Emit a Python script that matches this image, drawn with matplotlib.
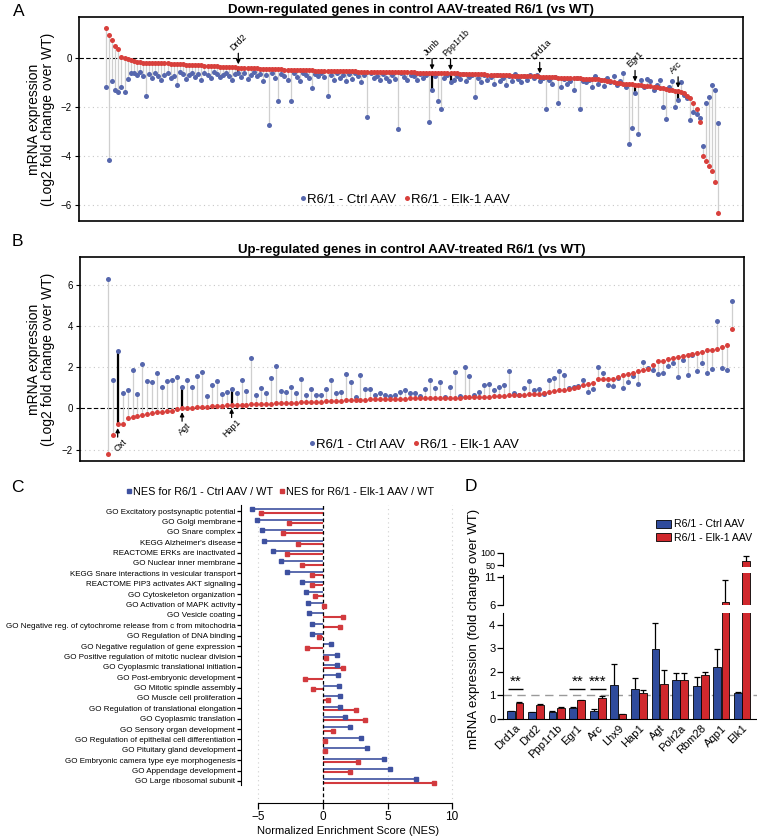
import numpy as np
import matplotlib
matplotlib.use('Agg')
import matplotlib.pyplot as plt
from matplotlib.lines import Line2D
from matplotlib.patches import Patch

plt.rcParams['font.family'] = ['Liberation Sans', 'DejaVu Sans']
NARROW = ['Liberation Sans Narrow', 'Liberation Sans', 'DejaVu Sans']

# ---------------- data ----------------
# Panel A: down-regulated genes, log2 fold change (sorted by Elk-1 AAV)
down_elk = [
    1.24, 0.95, 0.75, 0.5, 0.38, 0.05, -0.02, -0.06, -0.09, -0.12,
    -0.15, -0.18, -0.2, -0.2, -0.21, -0.21, -0.21, -0.22, -0.22, -0.22,
    -0.22, -0.23, -0.24, -0.25, -0.25, -0.26, -0.27, -0.27, -0.28, -0.29,
    -0.3, -0.3, -0.31, -0.32, -0.32, -0.33, -0.34, -0.35, -0.35, -0.36,
    -0.37, -0.38, -0.38, -0.39, -0.4, -0.4, -0.41, -0.42, -0.42, -0.43,
    -0.44, -0.44, -0.45, -0.45, -0.46, -0.46, -0.47, -0.47, -0.48, -0.48,
    -0.49, -0.49, -0.5, -0.5, -0.5, -0.51, -0.51, -0.51, -0.52, -0.52,
    -0.52, -0.53, -0.53, -0.53, -0.53, -0.54, -0.54, -0.54, -0.55, -0.55,
    -0.55, -0.55, -0.56, -0.56, -0.56, -0.56, -0.57, -0.57, -0.57, -0.57,
    -0.57, -0.58, -0.58, -0.58, -0.58, -0.58, -0.59, -0.59, -0.59, -0.59,
    -0.59, -0.6, -0.6, -0.6, -0.6, -0.6, -0.61, -0.61, -0.61, -0.62,
    -0.62, -0.62, -0.63, -0.63, -0.63, -0.64, -0.64, -0.64, -0.65, -0.65,
    -0.66, -0.66, -0.67, -0.67, -0.68, -0.68, -0.69, -0.69, -0.7, -0.7,
    -0.71, -0.71, -0.72, -0.72, -0.73, -0.73, -0.74, -0.74, -0.75, -0.75,
    -0.75, -0.76, -0.76, -0.77, -0.78, -0.78, -0.79, -0.8, -0.8, -0.81,
    -0.81, -0.82, -0.82, -0.83, -0.83, -0.84, -0.84, -0.85, -0.86, -0.86,
    -0.87, -0.88, -0.9, -0.93, -0.96, -0.99, -1.01, -1.03, -1.05, -1.06,
    -1.07, -1.08, -1.09, -1.1, -1.12, -1.14, -1.15, -1.16, -1.18, -1.2,
    -1.22, -1.24, -1.27, -1.29, -1.31, -1.33, -1.35, -1.38, -1.45, -1.56,
    -1.65, -1.85, -2.1, -2.6, -4.0, -4.2, -4.4, -4.6, -5.05, -6.33]
down_ctrl = [
    -1.2, -4.15, -0.95, -1.3, -1.37, -1.2, -1.4, -0.85, -0.6, -0.62,
    -0.7, -0.58, -0.75, -1.54, -0.65, -0.82, -0.6, -0.72, -0.9, -0.68,
    -0.62, -0.8, -0.74, -1.1, -0.58, -0.66, -0.85, -0.7, -0.6, -0.77,
    -0.65, -0.9, -0.6, -0.7, -0.83, -0.58, -0.64, -0.76, -0.68, -0.6,
    -0.72, -0.9, -0.65, -0.62, -0.78, -0.6, -0.85, -0.68, -0.58, -0.74,
    -0.66, -0.92, -0.7, -2.75, -0.6, -0.8, -1.75, -0.64, -0.72, -0.88,
    -1.75, -0.62, -0.76, -0.95, -0.6, -0.7, -0.82, -1.23, -0.65, -0.74,
    -0.6, -0.78, -1.54, -0.68, -0.9, -0.62, -0.8, -0.7, -0.95, -0.66,
    -0.85, -0.62, -0.75, -0.98, -0.7, -2.4, -0.6, -0.82, -0.72, -0.9,
    -0.66, -0.8, -0.95, -0.7, -0.85, -2.9, -0.62, -0.78, -0.9, -0.68,
    -0.75, -0.88, -0.64, -0.8, -0.7, -2.6, -1.3, -0.75, -1.75, -2.1,
    -0.8, -0.68, -1.0, -0.9, -0.72, -0.85, -0.66, -0.95, -0.78, -0.7,
    -1.6, -0.82, -1.0, -0.7, -0.9, -0.76, -1.05, -0.68, -0.92, -0.8,
    -1.1, -0.72, -0.95, -0.66, -0.85, -1.0, -0.72, -0.9, -0.68, -0.8,
    -0.7, -0.95, -0.8, -2.1, -0.9, -1.05, -0.78, -1.85, -1.2, -0.85,
    -1.05, -0.92, -1.3, -0.8, -2.1, -0.95, -1.0, -0.88, -1.2, -0.75,
    -1.05, -0.9, -1.15, -0.8, -1.0, -0.72, -1.1, -0.95, -0.6, -1.2,
    -3.5, -2.84, -1.45, -3.1, -0.9, -1.2, -0.85, -0.95, -1.3, -1.1,
    -0.9, -2.0, -2.5, -1.2, -0.95, -2.0, -1.7, -1.0, -1.5, -1.65,
    -2.55, -2.2, -2.3, -2.45, -3.6, -1.85, -1.6, -1.1, -1.3, -2.65]
down_marked = {'Drd2': 43, 'Junb': 106, 'Ppp1r1b': 112, 'Drd1a': 141,
               'Egr1': 172, 'Arc': 186}

# Panel B: up-regulated genes
up_elk = [
    -2.2, -1.29, -0.77, -0.77, -0.45, -0.4, -0.35, -0.3, -0.26, -0.24,
    -0.19, -0.15, -0.11, -0.1, -0.05, 0.0, 0.02, 0.03, 0.05, 0.06,
    0.08, 0.1, 0.11, 0.13, 0.15, 0.18, 0.18, 0.19, 0.19, 0.2,
    0.21, 0.22, 0.23, 0.24, 0.25, 0.26, 0.27, 0.28, 0.28, 0.29,
    0.3, 0.31, 0.32, 0.33, 0.34, 0.35, 0.36, 0.38, 0.39, 0.4,
    0.41, 0.42, 0.43, 0.44, 0.44, 0.45, 0.46, 0.47, 0.47, 0.48,
    0.48, 0.49, 0.49, 0.5, 0.5, 0.5, 0.51, 0.51, 0.52, 0.52,
    0.53, 0.53, 0.54, 0.55, 0.55, 0.56, 0.57, 0.58, 0.59, 0.6,
    0.62, 0.63, 0.65, 0.66, 0.67, 0.69, 0.7, 0.72, 0.75, 0.8,
    0.85, 0.89, 0.91, 0.93, 1.0, 1.05, 1.12, 1.17, 1.22, 1.42,
    1.43, 1.44, 1.45, 1.52, 1.6, 1.65, 1.72, 1.8, 1.88, 1.92,
    2.1, 2.28, 2.3, 2.4, 2.45, 2.5, 2.55, 2.58, 2.64, 2.7,
    2.76, 2.82, 2.86, 2.9, 2.98, 3.06, 3.87]
up_ctrl = [
    6.3, 1.37, 2.79, 0.73, 0.89, 1.89, 0.69, 2.18, 1.32, 1.26,
    1.73, 1.06, 1.31, 1.4, 1.55, 1.06, 1.39, 1.06, 1.56, 1.77,
    0.61, 1.15, 1.35, 0.69, 0.79, 0.95, 0.77, 1.37, 0.84, 2.45,
    0.66, 0.98, 0.77, 1.48, 2.06, 0.84, 0.82, 1.05, 0.73, 1.45,
    0.65, 0.94, 0.63, 0.63, 0.92, 1.37, 0.74, 0.82, 1.66, 1.26,
    0.58, 1.6, 0.95, 0.94, 0.65, 0.73, 0.65, 0.6, 0.65, 0.81,
    0.89, 0.73, 0.73, 0.6, 0.94, 1.4, 0.97, 1.26, 0.56, 1.02,
    1.77, 0.6, 2.02, 1.58, 0.65, 0.81, 1.13, 1.18, 0.89, 1.02,
    1.13, 1.81, 0.77, 0.65, 0.97, 1.34, 0.89, 0.94, 0.69, 1.37,
    1.48, 1.82, 1.61, 0.97, 1.05, 1.08, 1.4, 0.81, 0.95, 2.02,
    1.73, 1.16, 1.08, 1.5, 0.97, 1.29, 1.56, 1.21, 2.27, 1.97,
    1.85, 1.66, 1.73, 2.06, 2.23, 1.53, 2.34, 1.61, 2.58, 1.82,
    2.21, 1.73, 1.9, 4.23, 1.98, 1.89, 5.2]
up_marked = {'Oxt': 2, 'Agt': 15, 'Hap1': 25}

# Panel C: GSEA normalized enrichment scores
gene_sets = [
    'GO Excitatory postsynaptic potential', 'GO Golgi membrane',
    'GO Snare complex', "KEGG Alzheimer's disease",
    'REACTOME ERKs are inactivated', 'GO Nuclear inner membrane',
    'KEGG Snare interactions in vesicular transport',
    'REACTOME PIP3 activates AKT signaling', 'GO Cytoskeleton organization',
    'GO Activation of MAPK activity', 'GO Vesicle coating',
    'GO Negative reg. of cytochrome release from c from mitochodria',
    'GO Regulation of DNA binding', 'GO Negative regulation of gene expression',
    'GO Positive regulation of mitotic nuclear division',
    'GO Cyoplasmic translational initiation', 'GO Post-embryonic development',
    'GO Mitotic spindle assembly', 'GO Muscle cell proliferation',
    'GO Regulation of translational elongation', 'GO Cyoplasmic translation',
    'GO Sensory organ development',
    'GO Regulation of epithelial cell differentiation',
    'GO Pituitary gland development',
    'GO Embryonic camera type eye morphogenesis',
    'GO Appendage development', 'GO Large ribosomal subunit']
nes_ctrl = [-5.47, -5.08, -4.69, -4.54, -3.84, -3.27, -2.81, -1.6, -1.29,
            -1.13, -1.11, -0.83, -0.83, 0.64, 1.08, 1.11, 1.13, 1.24, 1.31,
            1.34, 1.73, 2.11, 2.91, 3.38, 4.69, 5.21, 7.22]
nes_elk = [-4.82, -2.6, -3.07, -1.91, -2.76, -1.62, -0.84, -0.85, -0.64,
           0.1, 1.57, 1.31, -0.34, -1.24, 0.26, 1.55, -1.37, -0.8, 0.39,
           2.55, 3.25, 0.75, 0.18, 0.13, 2.71, 2.09, 8.61]

# Panel D: qPCR fold change over WT
qpcr_genes = ['Drd1a', 'Drd2', 'Ppp1r1b', 'Egr1', 'Arc', 'Lhx9', 'Hap1',
              'Agt', 'Polr2a', 'Rbm28', 'Aqp1', 'Elk1']
qpcr_ctrl = [0.34, 0.29, 0.30, 0.46, 0.36, 1.46, 1.26, 2.97, 1.67, 1.40,
             2.23, 1.11]
qpcr_ctrl_err = [0.02, 0.02, 0.02, 0.04, 0.05, 0.87, 0.5, 1.12, 0.29, 0.37,
                 0.73, 0.03]
qpcr_elk = [0.69, 0.61, 0.47, 0.79, 0.89, 0.21, 1.11, 1.51, 1.67, 1.86,
            6.5, 68]
qpcr_elk_err = [0.02, 0.02, 0.02, 0.02, 0.08, 0.02, 0.13, 0.58, 0.29, 0.15,
                3.9, 21]
signif = {'Drd1a': '**', 'Egr1': '**', 'Arc': '***'}

# ---------------- figure ----------------
DOT_BLUE = '#5667ad'
DOT_RED = '#d8403c'
BAR_BLUE = '#2f4b9c'
BAR_RED = '#d0282d'
W, H = 757, 838
fig = plt.figure(figsize=(W / 100, H / 100), dpi=100)


def box(left, top, right, bottom):
    # axes rectangle given in pixel coordinates of the reference
    return [left / W, 1 - bottom / H, (right - left) / W, (bottom - top) / H]


def lollipop(ax, ctrl, elk, marked):
    x = np.arange(len(ctrl))
    ax.vlines(x, ctrl, elk, color='#cfcfcf', lw=0.9, zorder=1)
    for name, i in marked.items():
        ax.vlines(i, ctrl[i], elk[i], color='k', lw=1.6, zorder=2)
    ax.scatter(x, ctrl, s=13, color=DOT_BLUE, lw=0, zorder=3)
    ax.scatter(x, elk, s=13, color=DOT_RED, lw=0, zorder=4)
    ax.axhline(0, color='k', ls=(0, (4, 2)), lw=0.8, zorder=0)
    ax.set_xticks([])
    ax.tick_params(axis='y', labelsize=7, length=3, width=0.8, pad=2)
    for s in ax.spines.values():
        s.set_linewidth(1.2)
    handles = [Line2D([], [], marker='o', ls='', ms=3.6, color=DOT_BLUE,
                      mec='none', label='R6/1 - Ctrl AAV'),
               Line2D([], [], marker='o', ls='', ms=3.6, color=DOT_RED,
                      mec='none', label='R6/1 - Elk-1 AAV')]
    return handles


# Panel A
axA = fig.add_axes(box(79, 17, 743, 221))
hA = lollipop(axA, down_ctrl, down_elk, down_marked)
for y in (-2, -4, -6):
    axA.axhline(y, color='#c8c8c8', ls=(0, (1, 3)), lw=0.8, zorder=0)
axA.set_xlim(-8.8, 207.1)
axA.set_ylim(-6.65, 1.67)
axA.set_yticks([0, -2, -4, -6])
for name, i in down_marked.items():
    r = down_elk[i]
    axA.annotate('', xy=(i, r + 0.13), xytext=(i, r + 0.58),
                 arrowprops=dict(arrowstyle='-|>', color='k', lw=0.9,
                                 mutation_scale=6, shrinkA=0, shrinkB=0))
    axA.text(i - 1.2, r + 0.62, name, rotation=45, ha='left', va='bottom',
             rotation_mode='anchor', fontsize=6.5, family=NARROW)
axA.legend(handles=hA, loc='center', bbox_to_anchor=(0.488, 0.103), ncol=2,
           frameon=False, fontsize=9.5, handletextpad=-0.2,
           columnspacing=0.3, handlelength=1.0)
axA.set_title('Down-regulated genes in control AAV-treated R6/1 (vs WT)',
              fontsize=9.5, fontweight='bold', family=NARROW, pad=3)

# Panel B
axB = fig.add_axes(box(80, 257, 744, 461))
hB = lollipop(axB, up_ctrl, up_elk, up_marked)
for y in (6, 4, 2, -2):
    axB.axhline(y, color='#c8c8c8', ls=(0, (1, 3)), lw=0.8, zorder=0)
axB.set_xlim(-5.6, 128.4)
axB.set_ylim(-2.55, 7.35)
axB.set_yticks([-2, 0, 2, 4, 6])
for name, i in up_marked.items():
    r = up_elk[i]
    axB.annotate('', xy=(i, r - 0.18), xytext=(i, r - 0.62),
                 arrowprops=dict(arrowstyle='-|>', color='k', lw=0.9,
                                 mutation_scale=6, shrinkA=0, shrinkB=0))
    axB.text(i + 0.9, r - 0.62, name, rotation=45, ha='right', va='top',
             rotation_mode='anchor', fontsize=6.5, family=NARROW)
axB.legend(handles=hB, loc='center', bbox_to_anchor=(0.5, 0.08), ncol=2,
           frameon=False, fontsize=9.5, handletextpad=-0.2,
           columnspacing=0.3, handlelength=1.0)
axB.set_title('Up-regulated genes in control AAV-treated R6/1 (vs WT)',
              fontsize=9.5, fontweight='bold', family=NARROW, pad=3)

ylab = 'mRNA expression\n(Log2 fold change over WT)'
fig.text(41 / W, 1 - 119 / H, ylab, rotation=90, ha='center', va='center',
         fontsize=10, linespacing=1.05)
fig.text(41 / W, 1 - 359 / H, ylab, rotation=90, ha='center', va='center',
         fontsize=10, linespacing=1.05)

# Panel C
axC = fig.add_axes(box(241, 505, 456, 803))
rows = np.arange(len(gene_sets))
for xv in (-5, 5, 10):
    axC.axvline(xv, color='#d0d0d0', ls=(0, (1, 3)), lw=0.8, zorder=0)
axC.axvline(0, color='k', ls=(0, (3, 2)), lw=0.9, zorder=3)
axC.hlines(rows - 0.16, 0, nes_ctrl, color='#3e51a0', lw=1.2, zorder=2)
axC.hlines(rows + 0.16, 0, nes_elk, color='#d23a3e', lw=1.5, zorder=2)
axC.plot(nes_ctrl, rows - 0.16, 's', ms=2.2, color='#3e51a0', zorder=4)
axC.plot(nes_elk, rows + 0.16, 's', ms=2.2, color='#d23a3e', zorder=4)
axC.set_xlim(-6.34, 10.3)
axC.set_ylim(28.12, -0.58)
axC.set_yticks(rows)
axC.set_yticklabels(gene_sets, family=NARROW, fontsize=5.8)
axC.set_xticks([-5, 0, 5, 10])
axC.tick_params(axis='y', length=3, width=0.9, pad=1)
axC.tick_params(axis='x', length=4, width=0.9, labelsize=8.5, pad=2)
for t in axC.get_xticklabels():
    t.set_family(NARROW)
axC.spines['top'].set_visible(False)
axC.spines['right'].set_visible(False)
axC.spines['left'].set_bounds(-0.6, 26.4)
axC.spines['bottom'].set_bounds(-5, 10)
axC.set_xlabel('Normalized Enrichment Score (NES)', family=NARROW,
               fontsize=8, labelpad=2)
hC = [Line2D([], [], marker='s', ls='', ms=2.5, color='#3e51a0',
             label='NES for R6/1 - Ctrl AAV / WT'),
      Line2D([], [], marker='s', ls='', ms=2.5, color='#d23a3e',
             label='NES for R6/1 - Elk-1 AAV / WT')]
fig.legend(handles=hC, loc='center', bbox_to_anchor=(280 / W, 1 - 492 / H),
           ncol=2, frameon=False, prop={'family': NARROW, 'size': 7.8},
           handletextpad=0.05, columnspacing=0.5, handlelength=0.6)

# Panel D: broken y axis made from three stacked axes
xd = np.arange(len(qpcr_genes))
d_lo = fig.add_axes(box(503, 613, 757, 719))
d_mid = fig.add_axes(box(503, 573, 757, 605))
d_hi = fig.add_axes(box(503, 551, 757, 567))
segments = [(d_lo, (0, 4.51), [0, 1, 2, 3, 4], 8),
            (d_mid, (6, 11.7), [6, 11], 8),
            (d_hi, (41.7, 108.3), [50, 100], 6.5)]
for ax, lim, ticks, fs in segments:
    ax.bar(xd - 0.2, qpcr_ctrl, 0.38, color=BAR_BLUE, edgecolor='k',
           lw=0.6, zorder=2)
    ax.bar(xd + 0.2, qpcr_elk, 0.38, color=BAR_RED, edgecolor='k',
           lw=0.6, zorder=2)
    for off, vals, errs in ((-0.2, qpcr_ctrl, qpcr_ctrl_err),
                            (0.2, qpcr_elk, qpcr_elk_err)):
        tops = np.array(vals) + np.array(errs)
        ax.vlines(xd + off, vals, tops, color='k', lw=0.9, zorder=1)
        ax.plot(xd + off, tops, ls='', marker='_', ms=4, mew=0.9,
                color='k', zorder=1)
    ax.set_xlim(-0.6, 11.73)
    ax.set_ylim(*lim)
    ax.set_yticks(ticks)
    ax.tick_params(axis='y', length=4, width=0.9, labelsize=fs, pad=1.5)
    for t in ax.get_yticklabels():
        t.set_family(NARROW)
    ax.spines['top'].set_visible(False)
    ax.spines['right'].set_visible(False)
    ax.patch.set_alpha(0)
for ax in (d_mid, d_hi):
    ax.spines['bottom'].set_visible(False)
    ax.set_xticks([])
d_hi.spines['left'].set_bounds(47, 102)
d_mid.spines['left'].set_bounds(6, 11.4)
d_lo.axhline(1, color='#9a9a9a', ls=(0, (6, 4)), lw=1.0, zorder=0)
d_lo.set_xticks(xd)
d_lo.set_xticklabels(qpcr_genes, rotation=45, ha='right',
                     rotation_mode='anchor', family=NARROW, fontsize=8)
d_lo.tick_params(axis='x', length=0, pad=3)
for gene, stars in signif.items():
    k = qpcr_genes.index(gene)
    d_lo.hlines(1.28, k - 0.38, k + 0.38, color='k', lw=1.0)
    d_lo.text(k, 1.3, stars, ha='center', va='bottom', fontsize=11)
hD = [Patch(facecolor=BAR_BLUE, edgecolor='k', lw=0.6, label='R6/1 - Ctrl AAV'),
      Patch(facecolor=BAR_RED, edgecolor='k', lw=0.6, label='R6/1 - Elk-1 AAV')]
fig.legend(handles=hD, loc='upper left', bbox_to_anchor=(652 / W, 1 - 515 / H),
           frameon=False, prop={'family': NARROW, 'size': 7.6},
           handlelength=1.4, handleheight=0.8, handletextpad=0.3,
           labelspacing=0.35, borderaxespad=0)
fig.text(474 / W, 1 - 629 / H, 'mRNA expression (fold change over WT)',
         rotation=90, ha='center', va='center', fontsize=9.5)

# panel letters
for letter, (px, py) in {'A': (19, 12), 'B': (17, 242), 'C': (17, 487),
                         'D': (471, 486)}.items():
    fig.text(px / W, 1 - py / H, letter, ha='center', va='center',
             fontsize=12.5)

fig.savefig('out.png', dpi=100)
